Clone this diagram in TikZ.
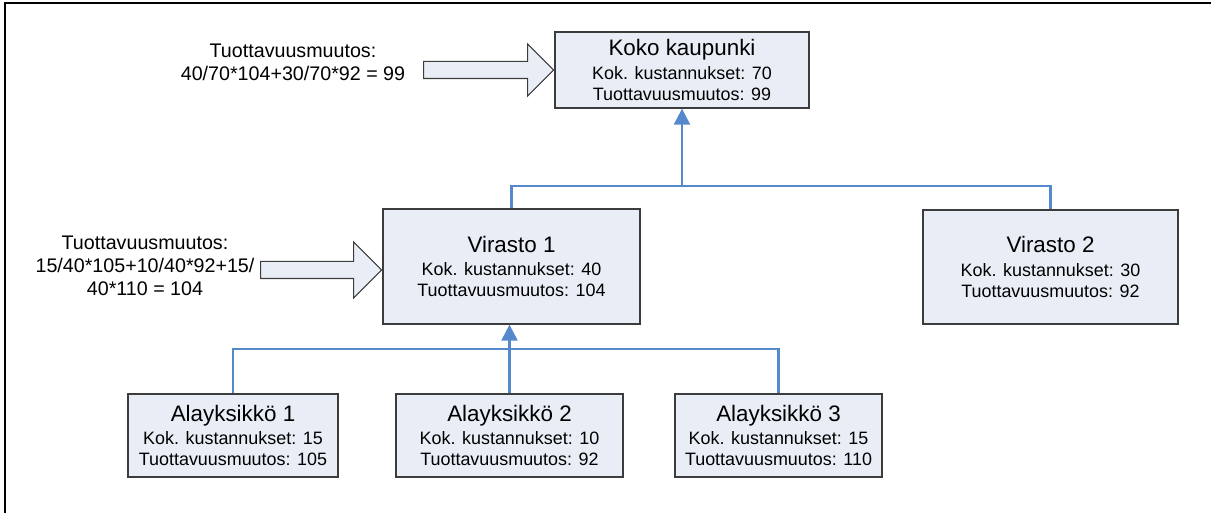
\documentclass[tikz,border=0pt]{standalone}
\usepackage{fontspec}
\setmainfont{Liberation Sans}
\usetikzlibrary{arrows.meta,shapes.arrows}
\definecolor{boxfill}{RGB}{233,238,246}
\definecolor{boxline}{RGB}{60,60,60}
\definecolor{linkblue}{RGB}{86,137,204}
\newcommand{\ttl}[1]{{\fontsize{12.75}{15}\selectfont #1}\\[1.6pt]}
\begin{document}
\begin{tikzpicture}[x=0.02cm,y=-0.02cm,
    unit/.style={rectangle,draw=boxline,line width=0.75pt,fill=boxfill,align=center,
      inner sep=0pt,font=\fontsize{10.2}{11.9}\selectfont},
    link/.style={draw=linkblue,line width=1.3pt},
    uparrow/.style={link,-{Triangle[width=0.32cm,length=0.32cm]}},
    bigarrow/.style={single arrow,draw=boxline,line width=0.6pt,fill=boxfill,
      inner xsep=0pt,inner ysep=0.16cm,single arrow head extend=0.35cm,shape border rotate=0},
    calc/.style={align=center,inner sep=0pt,font=\fontsize{11.2}{13}\selectfont}]
\useasboundingbox (0,0) rectangle (1211,513);
\draw[line width=1.1pt] (5,513) -- (5,3) -- (1211,3);

\node[unit,minimum width=5.08cm,minimum height=1.52cm] (koko) at (682,70)
  {\ttl{Koko kaupunki}Kok. kustannukset: 70\\Tuottavuusmuutos: 99};
\node[unit,minimum width=5.14cm,minimum height=2.30cm] (vir1) at (511.5,266.5)
  {\ttl{Virasto 1}Kok. kustannukset: 40\\Tuottavuusmuutos: 104};
\node[unit,minimum width=5.10cm,minimum height=2.28cm] (vir2) at (1050.5,267)
  {\ttl{Virasto 2}Kok. kustannukset: 30\\Tuottavuusmuutos: 92};
\node[unit,minimum width=4.20cm,minimum height=1.66cm] (ala1) at (233,435.5)
  {\ttl{Alayksikkö 1}Kok. kustannukset: 15\\Tuottavuusmuutos: 105};
\node[unit,minimum width=4.54cm,minimum height=1.66cm] (ala2) at (509.5,435.5)
  {\ttl{Alayksikkö 2}Kok. kustannukset: 10\\Tuottavuusmuutos: 92};
\node[unit,minimum width=4.14cm,minimum height=1.66cm] (ala3) at (778.5,435.5)
  {\ttl{Alayksikkö 3}Kok. kustannukset: 15\\Tuottavuusmuutos: 110};

\coordinate (jtop) at (682,186);
\coordinate (jbot) at (510,349);
\draw[link] (vir1.north) |- (jtop) -| (vir2.north);
\draw[uparrow] (jtop) -- (koko.south);
\draw[link] (ala1.north) |- (jbot) -| (ala3.north);
\draw[uparrow] (ala2.north) -- (ala2.north |- vir1.south);

\node[bigarrow,minimum height=2.6cm,anchor=tip] (arr1) at (koko.west) {};
\node[bigarrow,minimum height=2.42cm,single arrow head extend=0.39cm,
  anchor=tip] (arr2) at ([yshift=-0.07cm]vir1.west) {};
\node[calc] (calc1) at (293,62) {Tuottavuusmuutos:\\40/70*104+30/70*92 = 99};
\node[calc] (calc2) at (145,266) {Tuottavuusmuutos:\\15/40*105+10/40*92+15/\\40*110 = 104};
\end{tikzpicture}
\end{document}
